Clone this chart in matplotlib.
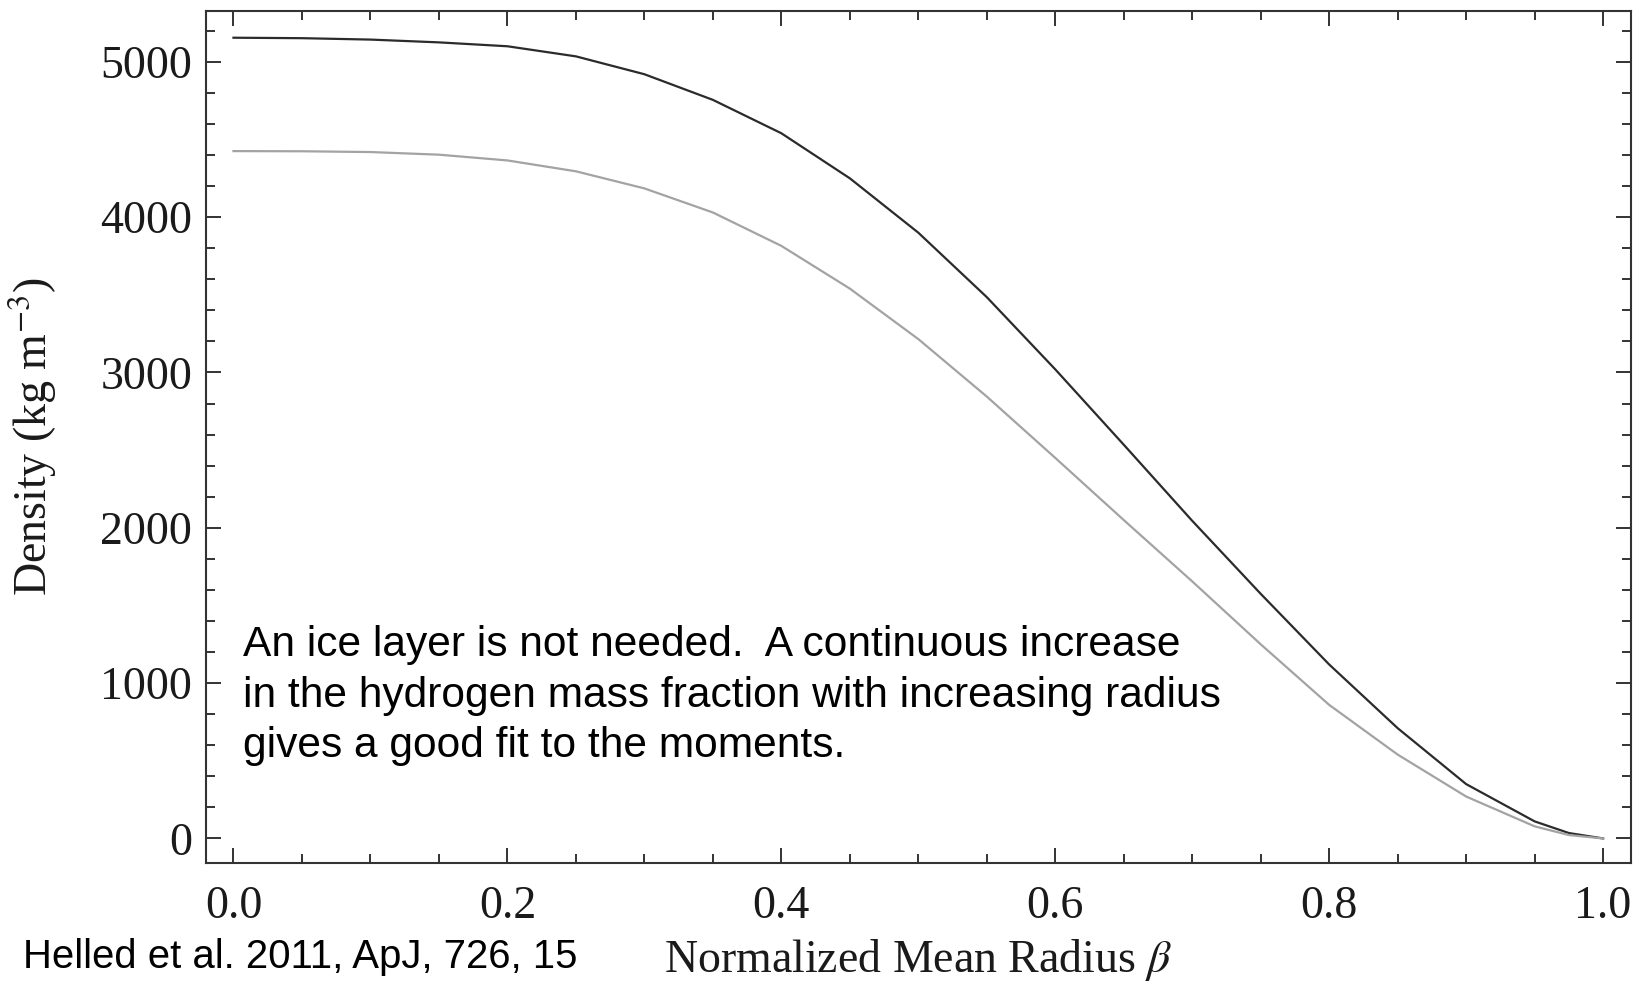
import matplotlib
matplotlib.use('Agg')
from matplotlib import pyplot as plt
from matplotlib.ticker import MultipleLocator

# valores
raio = [0.00, 0.05, 0.10, 0.15, 0.20, 0.25, 0.30, 0.35, 0.40, 0.45, 0.50,
        0.55, 0.60, 0.65, 0.70, 0.75, 0.80, 0.85, 0.90, 0.95, 0.975, 1.00]
densidade_escura = [5155, 5152, 5143, 5125, 5100, 5035, 4920, 4755, 4540, 4250, 3900,
                    3485, 3020, 2535, 2045, 1575, 1120, 710, 350, 110, 35, 0]
densidade_clara = [4425, 4424, 4419, 4402, 4365, 4295, 4185, 4030, 3815, 3540, 3215,
                   2845, 2450, 2050, 1655, 1250, 860, 540, 270, 78, 22, 0]

texto_nota = ("An ice layer is not needed.  A continuous increase\n"
              "in the hydrogen mass fraction with increasing radius\n"
              "gives a good fit to the moments.")
texto_ref = "Helled et al. 2011, ApJ, 726, 15"
rotulo_x = r"Normalized Mean Radius $\beta$"
rotulo_y = r"Density (kg m$^{-3}$)"

plt.rcParams['font.family'] = ['Liberation Serif', 'DejaVu Serif']
plt.rcParams['mathtext.fontset'] = 'stix'

fig = plt.figure(figsize=(16.42, 9.82), dpi=100)
ax = fig.add_axes([0.1255, 0.1207, 0.8675, 0.8681])

ax.plot(raio, densidade_escura, color='#2b2b2b', lw=1.6)
ax.plot(raio, densidade_clara, color='#a3a3a3', lw=1.6)

ax.set_xlim(-0.02, 1.02)
ax.set_ylim(-161, 5327)
ax.xaxis.set_major_locator(MultipleLocator(0.2))
ax.xaxis.set_minor_locator(MultipleLocator(0.05))
ax.yaxis.set_major_locator(MultipleLocator(1000))
ax.yaxis.set_minor_locator(MultipleLocator(200))

ax.tick_params(which='both', direction='in', top=True, right=True,
               color='#333333', width=1.4, labelcolor='#1a1a1a', labelsize=33)
ax.tick_params(which='major', length=11)
ax.tick_params(which='minor', length=6.5)
ax.tick_params(axis='x', which='both', pad=16)
ax.tick_params(axis='y', which='both', pad=10)

for lado in ax.spines.values():
    lado.set_linewidth(1.5)
    lado.set_color('#333333')

ax.set_xlabel(rotulo_x, fontsize=33, color='#1a1a1a')
ax.set_ylabel(rotulo_y, fontsize=33, color='#1a1a1a')
ax.xaxis.set_label_coords(0.5, -0.086)
ax.yaxis.set_label_coords(-0.103, 0.5)

ax.text(0.007, 525, texto_nota, family='Liberation Sans', fontsize=30.6,
        color='black', ha='left', va='baseline', linespacing=1.33)
fig.text(23 / 1642, 1 - 968 / 982, texto_ref, family='Liberation Sans',
         fontsize=28.9, color='black', ha='left', va='baseline')

fig.savefig('out.png', dpi=100)
